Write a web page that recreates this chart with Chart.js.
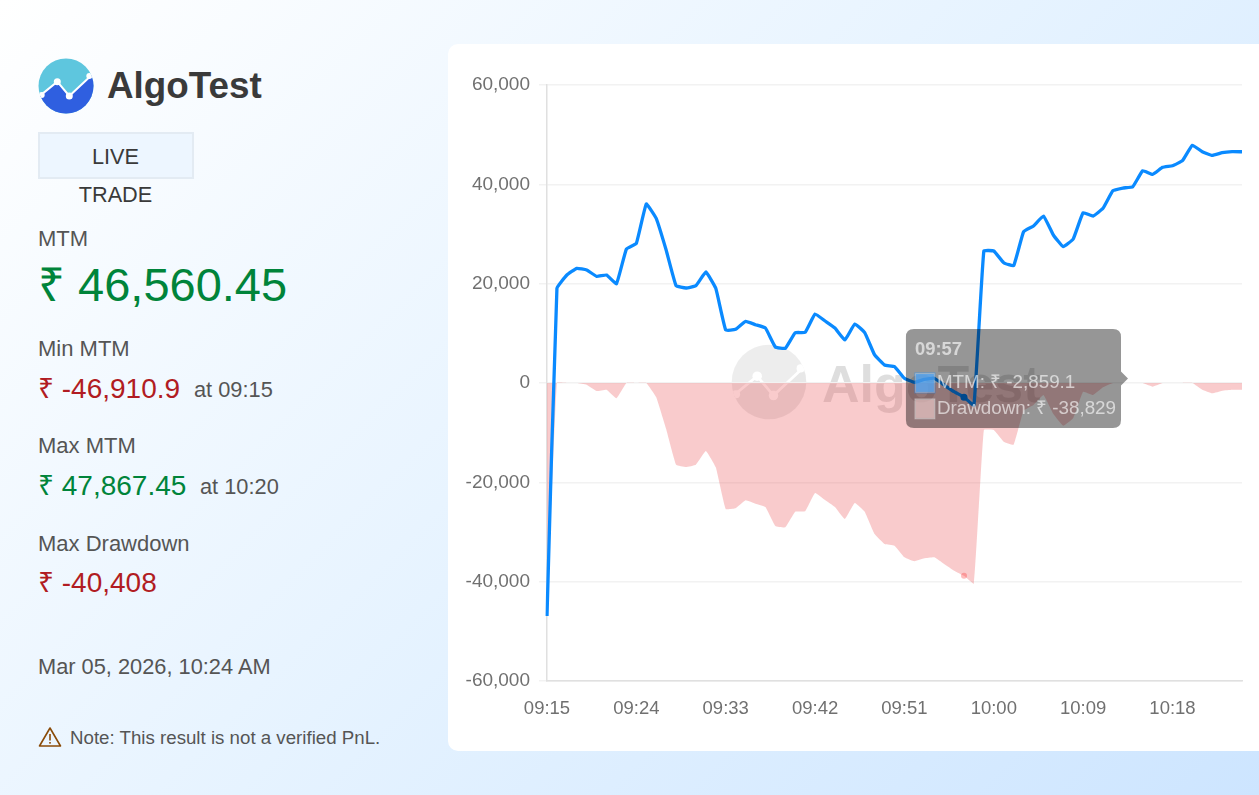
<!DOCTYPE html>
<html>
<head>
<meta charset="utf-8">
<script src="https://cdn.jsdelivr.net/npm/chart.js@4"></script>
<style>
  html, body { margin: 0; padding: 0; width: 1259px; height: 795px; overflow: hidden; }
  body {
    position: relative;
    font-family: "Liberation Sans", Arial, sans-serif;
    background: linear-gradient(135deg, #ffffff 0%, #e6f3ff 50%, #cde5ff 100%);
  }
  .t { position: absolute; white-space: nowrap; line-height: 1; color: #555; font-size: 22px; }
  .red { color: #b11c22; font-size: 28px; }
  .green { color: #00843a; font-size: 28px; }
  .brand { left: 107px; top: 68px; font-size: 36.8px; font-weight: bold; color: #3a3a3a; }
  .live { position: absolute; left: 38px; top: 132px; width: 152px; height: 43px; background: #edf6ff; border: 2px solid #e3ebf3; }
  .card { position: absolute; left: 448px; top: 44px; width: 811px; height: 707px; background: #fff; border-radius: 10px 0 0 10px; overflow: hidden; }
  .card canvas { position: absolute; left: 0; top: 0; }
  .wm-text { position: absolute; left: 374px; top: 314px; font-size: 52px; line-height: 52px; font-weight: bold; color: rgba(0,0,0,0.13); white-space: nowrap; }
</style>
</head>
<body>
<svg width="0" height="0" style="position:absolute">
  <defs>
    <clipPath id="disc"><circle cx="28" cy="28" r="27.5"/></clipPath>
    <symbol id="logo-lines" viewBox="0 0 56 56">
      <g clip-path="url(#disc)">
        <polyline points="-2,41 19.3,23.7 31.3,38 58,13" fill="none" stroke="#fff" stroke-width="2"/>
        <circle cx="19.3" cy="23.7" r="3.5" fill="#fff"/>
        <circle cx="31.3" cy="38" r="3.5" fill="#fff"/>
        <circle cx="3.7" cy="37" r="3" fill="#fff"/>
        <circle cx="51.3" cy="18" r="3" fill="#fff"/>
      </g>
    </symbol>
  </defs>
</svg>

<svg style="position:absolute;left:38px;top:58px" width="56" height="56" viewBox="0 0 56 56">
  <g clip-path="url(#disc)">
    <rect width="56" height="56" fill="#5ec6de"/>
    <polygon points="-2,41 19.3,23.7 31.3,38 58,13 58,58 -2,58" fill="#2f5fe0"/>
  </g>
  <use href="#logo-lines" width="56" height="56"/>
</svg>
<div class="t brand">AlgoTest</div>
<div class="live"></div>
<div class="t" style="left:38px;width:155px;text-align:center;top:146px;color:#3a3a3a;font-size:21.7px">LIVE</div>
<div class="t" style="left:38px;width:155px;text-align:center;top:184px;color:#3a3a3a;font-size:21.7px">TRADE</div>

<div class="t" style="left:38px;top:228px">MTM</div>
<div class="t" style="left:38px;top:261px;font-size:47px;color:#00843a">₹ 46,560.45</div>

<div class="t" style="left:38px;top:338px">Min MTM</div>
<div class="t red" style="left:38px;top:375px">₹ -46,910.9</div>
<div class="t" style="left:194px;top:379px;font-size:21.8px">at 09:15</div>

<div class="t" style="left:38px;top:435px">Max MTM</div>
<div class="t green" style="left:38px;top:472px">₹ 47,867.45</div>
<div class="t" style="left:200px;top:476px;font-size:21.8px">at 10:20</div>

<div class="t" style="left:38px;top:533px">Max Drawdown</div>
<div class="t red" style="left:38px;top:569px">₹ -40,408</div>

<div class="t" style="left:38px;top:656px;font-size:21.8px">Mar 05, 2026, 10:24 AM</div>

<svg style="position:absolute;left:38px;top:726px" width="24" height="22" viewBox="0 0 24 22">
  <path d="M12 2 L22.5 20 L1.5 20 Z" fill="none" stroke="#8a4b08" stroke-width="1.6" stroke-linejoin="round"/>
  <rect x="11.2" y="8" width="1.6" height="6.5" fill="#8a4b08"/>
  <rect x="11.2" y="16" width="1.6" height="1.7" fill="#8a4b08"/>
</svg>
<div class="t" style="left:70px;top:729px;font-size:18.7px">Note: This result is not a verified PnL.</div>

<div class="card">
  <svg style="position:absolute;left:283px;top:300px" width="76" height="76" viewBox="0 0 56 56">
    <circle cx="28" cy="28" r="27.5" fill="rgba(0,0,0,0.07)"/>
    <polygon points="-2,41 19.3,23.7 31.3,38 58,13 58,58 -2,58" fill="rgba(0,0,0,0.02)" clip-path="url(#disc)"/>
    <use href="#logo-lines" width="56" height="56"/>
  </svg>
  <div class="wm-text">AlgoTest</div>
  <canvas id="pnl" width="811" height="707"></canvas>
</div>

<script>
const times = ['09:15','09:16','09:17','09:18','09:19','09:20','09:21','09:22','09:23','09:24','09:25','09:26','09:27','09:28','09:29','09:30','09:31','09:32','09:33','09:34','09:35','09:36','09:37','09:38','09:39','09:40','09:41','09:42','09:43','09:44','09:45','09:46','09:47','09:48','09:49','09:50','09:51','09:52','09:53','09:54','09:55','09:56','09:57','09:58','09:59','10:00','10:01','10:02','10:03','10:04','10:05','10:06','10:07','10:08','10:09','10:10','10:11','10:12','10:13','10:14','10:15','10:16','10:17','10:18','10:19','10:20','10:21','10:22','10:23','10:24','10:25'];
const mtm = [-46910.9,19060,21740,23090,22750,21470,21740,20000,26980,28120,36040,33150,26780,19600,19130,19600,22350,19060,10670,10800,12420,11740,11070,7250,6980,10130,10200,13900,12480,11070,8660,11880,10130,5640,3620,3290,950,140,740,950,-400,-1750,-2859.1,-4438,26570,26570,24220,23620,30470,31610,33620,29800,27440,28990,34290,33620,35170,38720,39260,39530,42740,42000,43420,43750,44760,47867.45,46570,45840,46370,46570,46560.45];
const drawdown = [-46910,0,0,0,-340,-1620,-1350,-3090,0,0,0,-2890,-9260,-16440,-16910,-16440,-13690,-16980,-25370,-25240,-23620,-24300,-24970,-28790,-29060,-25910,-25840,-22140,-23560,-24970,-27380,-24160,-25910,-30400,-32420,-32750,-35090,-35900,-35300,-35090,-36440,-37790,-38829,-40408,-9470,-9470,-11820,-12420,-5570,-4430,-2420,-6240,-8600,-7050,-1750,-2420,-870,0,0,0,0,-740,0,0,0,0,-1350,-2080,-1550,-1350,-1360];
const hoverIndex = 42;

Chart.Tooltip.positioners.stuck = function() {
  return { x: 680, y: 334.5, xAlign: 'right', yAlign: 'center' };
};

const chart = new Chart(document.getElementById('pnl'), {
  type: 'line',
  data: {
    labels: times,
    datasets: [
      {
        label: 'MTM',
        data: mtm,
        borderColor: '#0a8aff',
        backgroundColor: '#0a8aff',
        borderWidth: 3.3,
        tension: 0.1,
        pointRadius: 0,
        pointHoverRadius: 3.5,
        pointHoverBorderWidth: 0,
        order: 1,
      },
      {
        label: 'Drawdown',
        data: drawdown,
        borderWidth: 0,
        borderColor: 'rgba(234,84,85,0.3)',
        backgroundColor: 'rgba(234,84,85,0.3)',
        fill: 'origin',
        tension: 0.1,
        pointRadius: 0,
        pointHoverRadius: 3,
        pointHoverBorderWidth: 0,
        order: 2,
      },
    ],
  },
  options: {
    responsive: false,
    animation: false,
    layout: { padding: { top: 41, right: 16, left: 0, bottom: 0 } },
    scales: {
      x: {
        afterFit: function(scale) { scale.height = 70; },
        grid: { display: false, drawTicks: false },
        border: { color: '#e0e0e0', width: 1.5 },
        ticks: {
          autoSkip: false,
          maxRotation: 0,
          padding: 17,
          color: '#707070',
          font: { size: 18.5, family: '"Liberation Sans"' },
          callback: function(value, index) { return index % 9 === 0 ? times[index] : ''; },
        },
      },
      y: {
        min: -60000,
        max: 60000,
        afterFit: function(scale) { scale.width = 99; },
        grid: { color: '#f2f2f2', lineWidth: 1.5 },
        border: { color: '#e0e0e0', width: 1.5 },
        ticks: {
          stepSize: 20000,
          padding: 9,
          color: '#707070',
          font: { size: 19, family: '"Liberation Sans"' },
        },
      },
    },
    plugins: {
      legend: { display: false },
      tooltip: {
        animation: false,
        position: 'stuck',
        mode: 'index',
        intersect: false,
        backgroundColor: 'rgba(0,0,0,0.41)',
        titleColor: 'rgba(255,255,255,0.62)',
        bodyColor: 'rgba(255,255,255,0.62)',
        titleFont: { size: 18.4, weight: 'bold', family: '"Liberation Sans"' },
        bodyFont: { size: 18.8, family: '"Liberation Sans"' },
        titleMarginBottom: 10.5,
        bodySpacing: 3.4,
        padding: { top: 10, bottom: 7.8, left: 9, right: 5 },
        caretSize: 7,
        caretPadding: 0,
        cornerRadius: 8,
        boxWidth: 20,
        boxHeight: 20,
        boxPadding: 0,
        multiKeyBackground: 'rgba(255,255,255,0.35)',
        callbacks: {
          label: function(ctx) {
            return ctx.dataset.label + ': ₹ ' + ctx.parsed.y.toLocaleString('en-US');
          },
          labelColor: function(ctx) {
            return ctx.datasetIndex === 0
              ? { borderColor: 'rgba(11,136,255,0.4)', backgroundColor: 'rgba(40,150,255,0.6)' }
              : { borderColor: 'rgba(255,255,255,0.3)', backgroundColor: 'rgba(250,190,190,0.35)' };
          },
        },
      },
    },
  },
});

const active = [
  { datasetIndex: 0, index: hoverIndex },
  { datasetIndex: 1, index: hoverIndex },
];
chart.setActiveElements(active);
chart.tooltip.setActiveElements(active, { x: 0, y: 0 });
chart.render();
</script>
</body>
</html>
